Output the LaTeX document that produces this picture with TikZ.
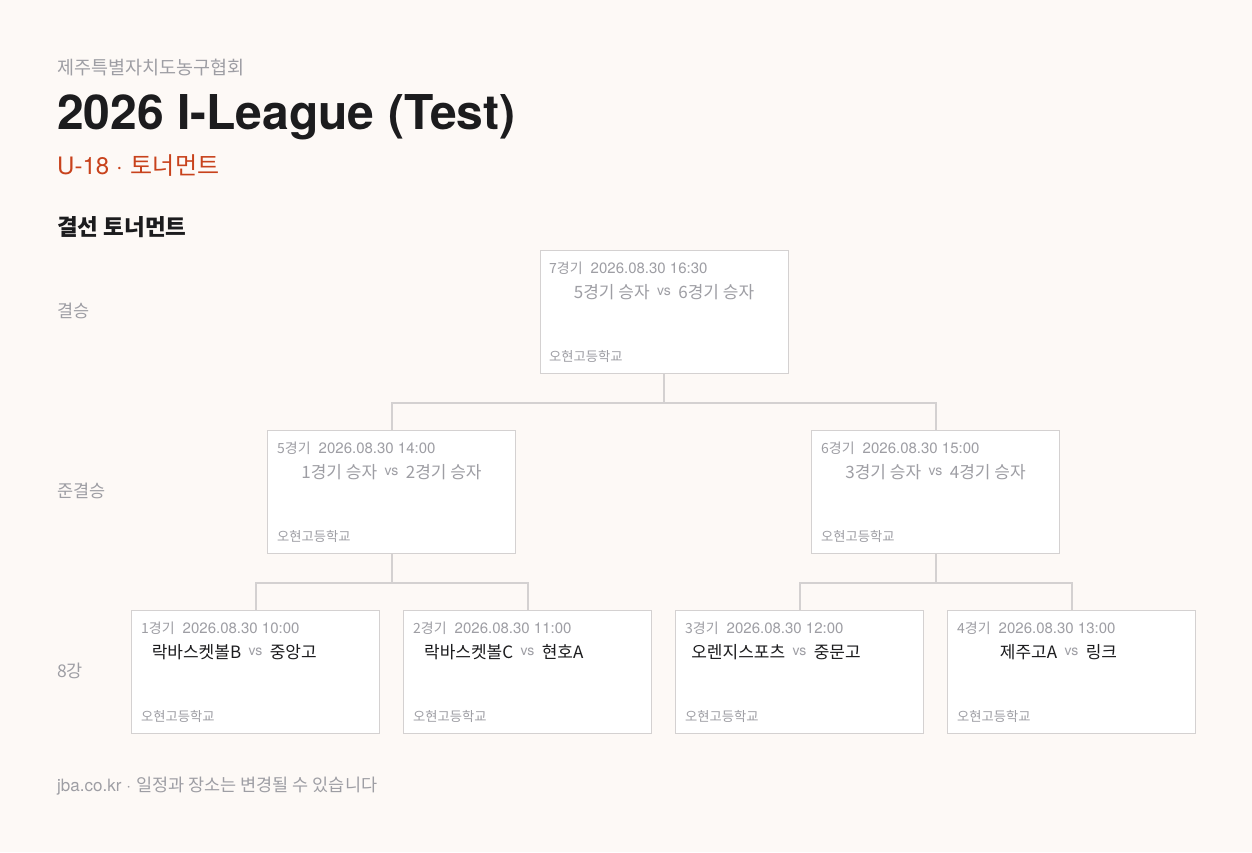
\documentclass[tikz,border=0pt]{standalone}
\usepackage{fontspec}
\setmainfont{Noto Sans CJK KR}
\newfontfamily\hel{TeX Gyre Heros}
\usetikzlibrary{positioning}

\definecolor{bgcol}{HTML}{FDF9F6}
\definecolor{linecol}{HTML}{D4D1D1}
\definecolor{greytxt}{HTML}{9E9EA4}
\definecolor{darktxt}{HTML}{1C1C1E}
\definecolor{accent}{HTML}{C8421C}

\newcommand{\dt}[1]{{\hel\fontsize{15}{17}\selectfont #1}}

\begin{document}
\begin{tikzpicture}[x=1pt,y=-1pt,
  box/.style={draw=linecol,fill=white,line width=1pt,minimum width=248pt,minimum height=123pt,inner sep=0pt},
  wire/.style={draw=linecol,line width=2pt},
  hdr/.style={anchor=west,inner sep=0pt,text=greytxt,font=\fontsize{14}{16}\selectfont},
  venue/.style={anchor=west,inner sep=0pt,text=greytxt,font=\fontsize{13.3}{15}\selectfont},
  vs/.style={inner xsep=3pt,inner ysep=0pt,text=greytxt,font=\hel\fontsize{14}{16}\selectfont},
  tbd/.style={inner sep=0pt,text=greytxt,font=\fontsize{17}{20}\selectfont},
  team/.style={inner sep=0pt,text=darktxt,font=\fontsize{17}{20}\selectfont},
  rnd/.style={anchor=west,inner sep=0pt,text=greytxt,font=\fontsize{17.5}{20}\selectfont}]
\useasboundingbox[fill=bgcol] (0,0) rectangle (1252,852);

% heading
\node[anchor=west,inner sep=0pt,text=greytxt,font=\fontsize{18.5}{22}\selectfont] (org) at (57,68) {제주특별자치도농구협회};
\node[anchor=west,inner sep=0pt,text=darktxt,font=\hel\fontsize{48}{54}\selectfont\bfseries] (title) at (57,117) {2026 I-League (Test)};
\node[anchor=west,inner sep=0pt,text=accent,font=\fontsize{24}{28}\selectfont] (sub) at (57,166) {{\hel U-18\hspace{7pt}·\hspace{8pt}}토너먼트};
\node[anchor=west,inner sep=0pt,text=darktxt,font=\fontsize{22.5}{26}\selectfont\bfseries] (sect) at (57,227) {결선 토너먼트};

\node[rnd] (r1) at (57,311) {결승};
\node[rnd] (r2) at (57,491) {준결승};
\node[rnd] (r3) at (57,671) {8강};

% boxes
\node[box] (g7) at (664,311.5) {};
\node[box] (g5) at (391.5,491.5) {};
\node[box] (g6) at (935.5,491.5) {};
\node[box] (g1) at (255.5,671.5) {};
\node[box] (g2) at (527.5,671.5) {};
\node[box] (g3) at (799.5,671.5) {};
\node[box] (g4) at (1071.5,671.5) {};

% connectors
\draw[wire] (g7.south) -- ++(0,29) -| (g5.north);
\draw[wire] (g7.south) -- ++(0,29) -| (g6.north);
\draw[wire] (g5.south) -- ++(0,29) -| (g1.north);
\draw[wire] (g5.south) -- ++(0,29) -| (g2.north);
\draw[wire] (g6.south) -- ++(0,29) -| (g3.north);
\draw[wire] (g6.south) -- ++(0,29) -| (g4.north);

% final
\node[hdr] at (549,268) {7경기\hspace{8pt}\dt{2026.08.30 16:30}};
\node[vs] (v7) at (664,292) {vs};
\node[tbd,left=4pt of v7] {5경기 승자};
\node[tbd,right=4pt of v7] {6경기 승자};
\node[venue] at (549,356) {오현고등학교};

% semi finals
\node[hdr] at (277,448) {5경기\hspace{8pt}\dt{2026.08.30 14:00}};
\node[vs] (v5) at (391.5,472) {vs};
\node[tbd,left=4pt of v5] {1경기 승자};
\node[tbd,right=4pt of v5] {2경기 승자};
\node[venue] at (277,536) {오현고등학교};

\node[hdr] at (821,448) {6경기\hspace{8pt}\dt{2026.08.30 15:00}};
\node[vs] (v6) at (935.5,472) {vs};
\node[tbd,left=4pt of v6] {3경기 승자};
\node[tbd,right=4pt of v6] {4경기 승자};
\node[venue] at (821,536) {오현고등학교};

% quarter finals
\node[hdr] at (141,628) {1경기\hspace{8pt}\dt{2026.08.30 10:00}};
\node[vs] (v1) at (255.5,652) {vs};
\node[team,left=4pt of v1] {락바스켓볼B};
\node[team,right=4pt of v1] {중앙고};
\node[venue] at (141,716) {오현고등학교};

\node[hdr] at (413,628) {2경기\hspace{8pt}\dt{2026.08.30 11:00}};
\node[vs] (v2) at (527.5,652) {vs};
\node[team,left=4pt of v2] {락바스켓볼C};
\node[team,right=4pt of v2] {현호A};
\node[venue] at (413,716) {오현고등학교};

\node[hdr] at (685,628) {3경기\hspace{8pt}\dt{2026.08.30 12:00}};
\node[vs] (v3) at (799.5,652) {vs};
\node[team,left=4pt of v3] {오렌지스포츠};
\node[team,right=4pt of v3] {중문고};
\node[venue] at (685,716) {오현고등학교};

\node[hdr] at (957,628) {4경기\hspace{8pt}\dt{2026.08.30 13:00}};
\node[vs] (v4) at (1071.5,652) {vs};
\node[team,left=4pt of v4] {제주고A};
\node[team,right=4pt of v4] {링크};
\node[venue] at (957,716) {오현고등학교};

% footer
\node[anchor=west,inner sep=0pt,text=greytxt,font=\fontsize{17.5}{20}\selectfont] (foot) at (57,786) {{\hel\fontsize{17}{20}\selectfont jba.co.kr\hspace{5pt}·\hspace{5pt}}일정과 장소는 변경될 수 있습니다};
\end{tikzpicture}
\end{document}
